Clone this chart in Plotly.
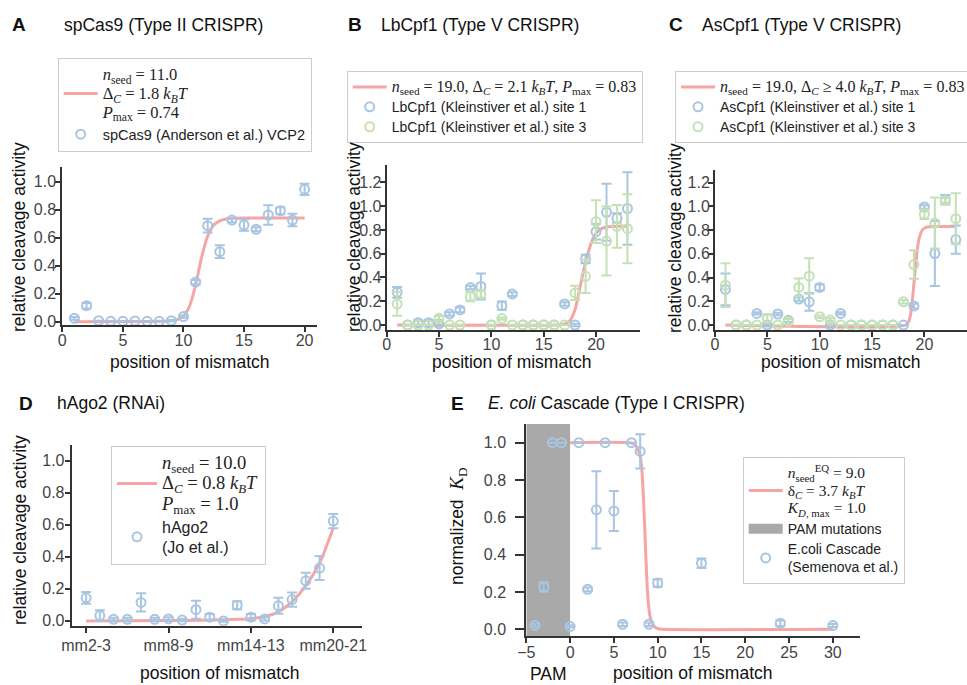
import plotly.graph_objects as go

W, H = 967, 685

# ---------------- data ----------------
# Panel A: spCas9 (Anderson et al.) VCP2
pos_A = [1, 2, 3, 4, 5, 6, 7, 8, 9, 10, 11, 12, 13, 14, 15, 16, 17, 18, 19, 20]
act_A = [0.024, 0.114, 0.007, 0.002, 0.002, 0.005, 0.002, 0.002, 0.007, 0.036,
         0.283, 0.686, 0.50, 0.726, 0.69, 0.66, 0.762, 0.793, 0.726, 0.945]
err_A = [0.01, 0.02, 0.0, 0.0, 0.0, 0.0, 0.0, 0.0, 0.005, 0.008,
         0.015, 0.05, 0.045, 0.015, 0.04, 0.015, 0.07, 0.025, 0.045, 0.04]
fit_A_x = [1, 8, 9, 9.5, 10, 10.5, 11, 11.5, 12, 12.5, 13, 13.5, 14, 15, 20]
fit_A_y = [0.0, 0.002, 0.006, 0.015, 0.04, 0.11, 0.26, 0.46, 0.61, 0.69, 0.72, 0.733, 0.738, 0.74, 0.74]

# Panel B: LbCpf1 (Kleinstiver et al.)
pos_B = [1, 2, 3, 4, 5, 6, 7, 8, 9, 10, 11, 12, 13, 14, 15, 16, 17, 18, 19, 20, 21, 22, 23]
act_B1 = [0.275, 0.0, 0.02, 0.02, 0.01, 0.093, 0.127, 0.315, 0.324, 0.0, 0.163, 0.26,
          0.0, 0.0, 0.0, 0.0, 0.177, 0.0, 0.555, 0.785, 0.948, 0.90, 0.98]
err_B1 = [0.045, 0.0, 0.02, 0.02, 0.015, 0.015, 0.02, 0.015, 0.11, 0.0, 0.035, 0.015,
          0.0, 0.0, 0.0, 0.0, 0.015, 0.01, 0.035, 0.065, 0.24, 0.04, 0.305]
act_B3 = [0.177, 0.0, 0.0, 0.0, 0.056, 0.0, 0.0, 0.24, 0.26, 0.0, 0.054, 0.0,
          0.0, 0.0, 0.0, 0.0, 0.0, 0.27, 0.41, 0.87, 0.706, 0.83, 0.81]
err_B3 = [0.1, 0.0, 0.0, 0.0, 0.02, 0.0, 0.0, 0.04, 0.03, 0.0, 0.01, 0.0,
          0.0, 0.0, 0.0, 0.0, 0.0, 0.06, 0.14, 0.18, 0.29, 0.18, 0.29]
fit_B_x = [1, 16, 17, 17.5, 18, 18.5, 19, 19.5, 20, 20.5, 21, 22, 23]
fit_B_y = [0.0, 0.0, 0.008, 0.035, 0.13, 0.33, 0.53, 0.68, 0.77, 0.81, 0.825, 0.83, 0.83]

# Panel C: AsCpf1 (Kleinstiver et al.)
pos_C = [1, 2, 3, 4, 5, 6, 7, 8, 9, 10, 11, 12, 13, 14, 15, 16, 17, 18, 19, 20, 21, 22, 23]
act_C1 = [0.30, 0.0, 0.0, 0.098, 0.0, 0.093, 0.04, 0.219, 0.196, 0.317, 0.0, 0.098,
          0.0, 0.0, 0.0, 0.0, 0.0, 0.0, 0.16, 0.995, 0.603, 1.057, 0.72]
err_C1 = [0.134, 0.0, 0.0, 0.01, 0.01, 0.01, 0.015, 0.015, 0.075, 0.025, 0.01, 0.01,
          0.0, 0.0, 0.0, 0.0, 0.0, 0.0, 0.02, 0.015, 0.275, 0.04, 0.12]
act_C3 = [0.336, 0.0, 0.0, 0.0, 0.056, 0.0, 0.03, 0.317, 0.412, 0.07, 0.042, 0.0,
          0.0, 0.0, 0.0, 0.0, 0.0, 0.196, 0.51, 0.934, 0.86, 1.05, 0.897]
err_C3 = [0.185, 0.0, 0.0, 0.0, 0.035, 0.0, 0.02, 0.075, 0.15, 0.01, 0.015, 0.0,
          0.0, 0.0, 0.0, 0.0, 0.0, 0.015, 0.12, 0.04, 0.215, 0.02, 0.215]
fit_C_x = [1, 18.2, 18.5, 18.7, 18.9, 19.1, 19.3, 19.5, 19.8, 20.2, 21, 23]
fit_C_y = [0.0, 0.0, 0.03, 0.1, 0.25, 0.45, 0.62, 0.73, 0.80, 0.825, 0.83, 0.83]

# Panel D: hAgo2 (Jo et al.)
pos_D = [0, 1, 2, 3, 4, 5, 6, 7, 8, 9, 10, 11, 12, 13, 14, 15, 16, 17, 18]
tick_D_vals = [0, 6, 12, 18]
tick_D_text = ["mm2-3", "mm8-9", "mm14-13", "mm20-21"]
act_D = [0.144, 0.033, 0.01, 0.01, 0.115, 0.01, 0.012, 0.005, 0.07, 0.023,
         0.0, 0.098, 0.023, 0.012, 0.094, 0.133, 0.25, 0.33, 0.623]
err_D = [0.037, 0.033, 0.01, 0.01, 0.057, 0.01, 0.01, 0.008, 0.056, 0.02,
         0.005, 0.025, 0.02, 0.01, 0.05, 0.045, 0.05, 0.075, 0.045]
fit_D_x = [0, 6, 9, 11, 12, 13, 14, 15, 16, 17, 18]
fit_D_y = [0.0, 0.002, 0.005, 0.01, 0.014, 0.026, 0.056, 0.12, 0.22, 0.36, 0.58]

# Panel E: E. coli Cascade (Semenova et al.)
pos_E = [-4, -3, -2, -1, 0, 1, 2, 3, 4, 5, 6, 7, 8, 9, 10, 15, 24, 30]
kd_E = [0.021, 0.227, 1.0, 1.0, 0.015, 1.0, 0.214, 0.64, 1.0, 0.634,
        0.027, 1.0, 0.953, 0.027, 0.248, 0.354, 0.032, 0.02]
err_E = [0.008, 0.025, 0.0, 0.0, 0.006, 0.0, 0.01, 0.207, 0.0, 0.107,
         0.01, 0.0, 0.092, 0.01, 0.02, 0.025, 0.015, 0.008]
fit_E_x = [0, 7, 7.5, 8, 8.2, 8.4, 8.6, 8.8, 9.0, 9.2, 9.5, 10, 10.5, 30]
fit_E_y = [1.0, 0.998, 0.985, 0.93, 0.85, 0.68, 0.45, 0.23, 0.11, 0.055, 0.02, 0.004, 0.0, 0.0]
pam_region = [-5, 0]

# ---------------- style ----------------
BLUE = "#a8c5e2"
GREEN = "#c4e1b6"
PINK = "#f5a5a5"
GRAY = "#a9a9a9"
AX = "#333333"
SANS = "Liberation Sans"
SERIF = "Liberation Serif"


def px_x(p):
    return p / W


def px_y(p):
    return 1 - p / H


def m(s, size=16):
    return f'<span style="font-family:{SERIF};font-size:{size}px">{s}</span>'


def s_(s, size=14):
    return f'<span style="font-size:{size}px">{s}</span>'


fig = go.Figure()


def fit_trace(x, y, xa, ya, name, legend):
    fig.add_trace(go.Scatter(
        x=x, y=y, mode="lines", name=name, legend=legend, legendrank=1,
        line=dict(color=PINK, width=3, shape="spline", smoothing=0.6),
        xaxis=xa, yaxis=ya, hoverinfo="skip"))


def data_trace(x, y, e, color, xa, ya, name, legend, rank=3):
    fig.add_trace(go.Scatter(
        x=x, y=y, mode="markers", name=name, legend=legend, legendrank=rank,
        marker=dict(symbol="circle-open", size=9, color=color, line=dict(width=2, color=color)),
        error_y=dict(type="data", array=e, color=color, thickness=2, width=5),
        xaxis=xa, yaxis=ya))


# Panel A
fit_trace(fit_A_x, fit_A_y, "x", "y",
          m("<i>n</i><sub>seed</sub> = 11.0", 16.5) + "<br>" +
          m("Δ<sub><i>C</i></sub> = 1.8 <i>k</i><sub><i>B</i></sub><i>T</i>", 16.5) + "<br>" +
          m("<i>P</i><sub>max</sub> = 0.74", 16.5), "legend")
data_trace(pos_A, act_A, err_A, BLUE, "x", "y", s_("spCas9 (Anderson et al.) VCP2", 14.5), "legend")

# Panel B
fit_trace(fit_B_x, fit_B_y, "x2", "y2",
          m("<i>n</i><sub>seed</sub> = 19.0, Δ<sub><i>C</i></sub> = 2.1 <i>k</i><sub><i>B</i></sub><i>T</i>, <i>P</i><sub>max</sub> = 0.83"),
          "legend2")
data_trace(pos_B, act_B1, err_B1, BLUE, "x2", "y2", s_("LbCpf1 (Kleinstiver et al.) site 1"), "legend2", 2)
data_trace(pos_B, act_B3, err_B3, GREEN, "x2", "y2", s_("LbCpf1 (Kleinstiver et al.) site 3"), "legend2", 3)

# Panel C
fit_trace(fit_C_x, fit_C_y, "x3", "y3",
          m("<i>n</i><sub>seed</sub> = 19.0, Δ<sub><i>C</i></sub> ≥ 4.0 <i>k</i><sub><i>B</i></sub><i>T</i>, <i>P</i><sub>max</sub> = 0.83"),
          "legend3")
data_trace(pos_C, act_C1, err_C1, BLUE, "x3", "y3", s_("AsCpf1 (Kleinstiver et al.) site 1"), "legend3", 2)
data_trace(pos_C, act_C3, err_C3, GREEN, "x3", "y3", s_("AsCpf1 (Kleinstiver et al.) site 3"), "legend3", 3)

# Panel D
fit_trace(fit_D_x, fit_D_y, "x4", "y4",
          m("<i>n</i><sub>seed</sub> = 10.0", 18.5) + "<br>" +
          m("Δ<sub><i>C</i></sub> = 0.8 <i>k</i><sub><i>B</i></sub><i>T</i>", 18.5) + "<br>" +
          m("<i>P</i><sub>max</sub> = 1.0", 18.5), "legend4")
data_trace(pos_D, act_D, err_D, BLUE, "x4", "y4",
           s_("hAgo2", 16) + "<br>" + s_("(Jo et al.)", 16), "legend4")

# Panel E
E_yrange = [-0.036, 1.1]
fig.add_trace(go.Scatter(
    x=[pam_region[0], pam_region[1], pam_region[1], pam_region[0]],
    y=[E_yrange[0], E_yrange[0], E_yrange[1], E_yrange[1]],
    mode="none", fill="toself", fillcolor=GRAY, showlegend=False,
    xaxis="x5", yaxis="y5", hoverinfo="skip"))
fit_trace(fit_E_x, fit_E_y, "x5", "y5",
          m("<i>n</i><sub>seed</sub><sup>EQ</sup> = 9.0", 15.5) + "<br>" +
          m("δ<sub><i>C</i></sub> = 3.7 <i>k</i><sub><i>B</i></sub><i>T</i>", 15.5) + "<br>" +
          m("<i>K</i><sub><i>D</i>, max</sub> = 1.0", 15.5), "legend5")
# legend swatch for the PAM region (no data of its own)
fig.add_trace(go.Scatter(
    x=[None], y=[None], mode="lines", line=dict(color=GRAY, width=10),
    name=s_("PAM mutations"), legend="legend5", legendrank=2,
    xaxis="x5", yaxis="y5", hoverinfo="skip"))
data_trace(pos_E, kd_E, err_E, BLUE, "x5", "y5",
           s_("E.coli Cascade") + "<br>" + s_("(Semenova et al.)"), "legend5")

# ---------------- axes ----------------
def axis(domain, rng, **kw):
    d = dict(domain=domain, range=rng, showline=True, linecolor=AX, linewidth=2,
             ticks="outside", ticklen=5, tickwidth=1.5, tickcolor=AX,
             showgrid=False, zeroline=False, mirror=False, automargin=False,
             tickfont=dict(family=SANS, size=16, color="#444444"))
    d.update(kw)
    return d


Y1 = [0, 0.2, 0.4, 0.6, 0.8, 1.0]
Y2 = [0, 0.2, 0.4, 0.6, 0.8, 1.0, 1.2]
layout_axes = dict(
    xaxis=axis([px_x(62.3), px_x(316.7)], [0, 21], anchor="y", tickvals=[0, 5, 10, 15, 20],
               ticklabelstandoff=-5),
    yaxis=axis([px_y(325), px_y(166.7)], [-0.024, 1.107], anchor="x",
               tickvals=Y1, tickformat=".1f", ticklabelstandoff=-4),
    xaxis2=axis([px_x(386.7), px_x(640)], [0, 24.2], anchor="y2", tickvals=[0, 5, 10, 15, 20],
                ticklabelstandoff=-6),
    yaxis2=axis([px_y(330), px_y(165)], [-0.042, 1.346], anchor="x2",
                tickvals=Y2, tickformat=".1f", ticklabelstandoff=-5),
    xaxis3=axis([px_x(715), 1.0], [0, 24.07], anchor="y3", tickvals=[0, 5, 10, 15, 20],
                ticklabelstandoff=-6),
    yaxis3=axis([px_y(330), px_y(170)], [-0.042, 1.307], anchor="x3",
                tickvals=Y2, tickformat=".1f", ticklabelstandoff=-5),
    xaxis4=axis([px_x(71.7), px_x(361.7)], [-1.05, 20.07], anchor="y4",
                tickvals=tick_D_vals, ticktext=tick_D_text, ticklabelstandoff=-1),
    yaxis4=axis([px_y(625.7), px_y(445)], [-0.03, 1.098], anchor="x4",
                tickvals=Y1, tickformat=".1f", ticklabelstandoff=-3),
    xaxis5=axis([px_x(526.3), px_x(860)], [-5, 33.1], anchor="y5",
                tickvals=[-5, 0, 5, 10, 15, 20, 25, 30], ticklabelstandoff=-4),
    yaxis5=axis([px_y(636), px_y(424)], E_yrange, anchor="x5", ticklen=9,
                tickvals=Y1, tickformat=".1f", ticklabelstandoff=6),
)


def legend(xp, yp, size=13, iw=34):
    return dict(x=px_x(xp), y=px_y(yp), xanchor="left", yanchor="top",
                bgcolor="white", bordercolor="#cccccc", borderwidth=1,
                font=dict(family=SANS, size=size, color="#222222"),
                itemwidth=iw, tracegroupgap=0, traceorder="normal")


# ---------------- annotations ----------------
ann = []


def text(s, xp, yp, size=17.5, xanchor="center", angle=0, bold=False, family=SANS):
    ann.append(dict(text=f"<b>{s}</b>" if bold else s, x=px_x(xp), y=px_y(yp),
                    xref="paper", yref="paper", xanchor=xanchor, yanchor="middle",
                    showarrow=False, textangle=angle,
                    font=dict(family=family, size=size, color="#111111")))


# panel letters and titles
text("A", 10, 25, size=19, xanchor="left", bold=True)
text("spCas9 (Type II CRISPR)", 62, 25, xanchor="left")
text("B", 346, 25, size=19, xanchor="left", bold=True)
text("LbCpf1 (Type V CRISPR)", 379, 25, xanchor="left")
text("C", 667, 25, size=19, xanchor="left", bold=True)
text("AsCpf1 (Type V CRISPR)", 700, 25, xanchor="left")
text("D", 17, 403, size=19, xanchor="left", bold=True)
text("hAgo2 (RNAi)", 55, 403, xanchor="left")
text("E", 449, 403, size=19, xanchor="left", bold=True)
text("<i>E. coli</i> Cascade (Type I CRISPR)", 486, 403, xanchor="left")

# axis titles
text("relative cleavage activity", 19, 237, angle=-90)
text("relative cleavage activity", 354, 237, angle=-90)
text("relative cleavage activity", 675, 238, angle=-90)
text("relative cleavage activity", 20, 530, angle=-90)
text("position of mismatch", 190, 362)
text("position of mismatch", 512, 362)
text("position of mismatch", 841, 362)
text("position of mismatch", 220, 673)
text("position of mismatch", 693, 673)
text("PAM", 548, 674)
text('normalized  <span style="font-family:Liberation Serif;font-size:19px"><i>K</i><sub>D</sub></span>',
     458, 526, angle=-90)

fig.update_layout(
    width=W, height=H, margin=dict(l=0, r=0, t=0, b=0, autoexpand=False),
    plot_bgcolor="white", paper_bgcolor="white",
    showlegend=True,
    legend=legend(57.7, 57.7, size=14.5),
    legend2=legend(346.7, 71),
    legend3=legend(675, 71),
    legend4=legend(111, 445.7, size=15.5, iw=40),
    legend5=legend(742.7, 456.7, size=13.5),
    annotations=ann,
    **layout_axes,
)

fig.write_html("out.html")
